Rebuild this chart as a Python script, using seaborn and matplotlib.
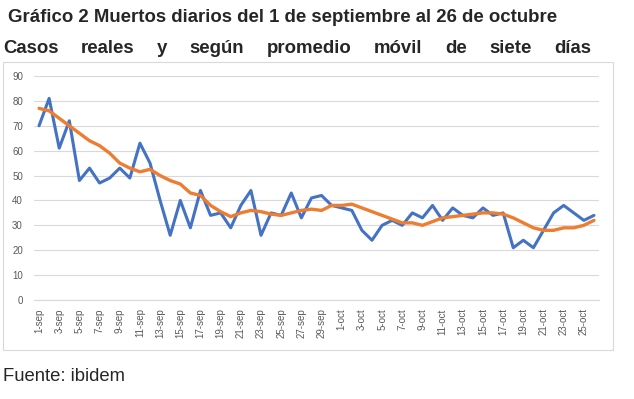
import matplotlib
matplotlib.use("Agg")
import matplotlib.pyplot as plt
import seaborn as sns
import pandas as pd
from matplotlib.patches import Rectangle

# daily deaths, 1-sep .. 26-oct
dates = [f"{d}-sep" for d in range(1, 31)] + [f"{d}-oct" for d in range(1, 27)]
casos = [70, 81, 61, 72, 48, 53, 47, 49, 53, 49,
         63, 55, 40, 26, 40, 29, 44, 34, 35, 29,
         38, 44, 26, 35, 34, 43, 33, 41, 42, 38,
         37, 36, 28, 24, 30, 32, 30, 35, 33, 38,
         32, 37, 34, 33, 37, 34, 35, 21, 24, 21,
         28, 35, 38, 35, 32, 34]
promedio = [77, 76, 73, 70, 67, 64, 62, 59, 55, 53,
            51.5, 52.5, 50, 48, 46.6, 43, 42, 38, 35.5, 33.5,
            35, 36, 35.5, 34.5, 34, 35, 36, 36.5, 36, 38,
            38, 38.5, 37, 35.5, 34, 32.5, 31, 31, 30, 31.5,
            33, 33.5, 34, 34.5, 35, 35, 34.5, 33, 31, 29,
            28, 28, 29, 29, 30, 32]
yticks = list(range(0, 100, 10))

df = pd.DataFrame({"idx": range(len(dates)), "fecha": dates,
                   "Casos reales": casos, "Promedio móvil": promedio})

sns.set_style("white")
plt.rcParams["font.family"] = ["Liberation Sans", "DejaVu Sans"]

W, H = 634, 399
fig = plt.figure(figsize=(W / 100, H / 100), dpi=100)

def fx(px):
    return px / W

def fy(py):
    return 1 - py / H

# chart border
fig.patches.append(Rectangle((fx(3), fy(350)), fx(610), 288 / H, transform=fig.transFigure,
                             fill=False, edgecolor="#d9d9d9", linewidth=0.8))

ax = fig.add_axes([fx(34), fy(300), fx(599) - fx(34), fy(76) - fy(300)])
sns.lineplot(data=df, x="idx", y="Casos reales", ax=ax, color="#4472C4", linewidth=2.2)
sns.lineplot(data=df, x="idx", y="Promedio móvil", ax=ax, color="#ED7D31", linewidth=2.4)

ax.set_xlim(-0.5, len(dates) - 0.5)
ax.set_ylim(0, 90)
ax.set_yticks(yticks)
ax.yaxis.grid(True, color="#d9d9d9", linewidth=0.8)
ax.set_axisbelow(True)
ax.tick_params(axis="y", length=0, pad=8, labelsize=7, labelcolor="#595959")

ax.set_xticks(df["idx"][::2])
ax.set_xticklabels(df["fecha"][::2], rotation=90)
ax.set_xticks([i - 0.5 for i in range(0, len(dates) + 1, 2)], minor=True)
ax.tick_params(axis="x", which="major", length=0, pad=6, labelsize=7, labelcolor="#595959")
ax.tick_params(axis="x", which="minor", length=5, width=0.8, color="#d9d9d9", direction="out")
ax.set_xlabel("")
ax.set_ylabel("")
for s in ["top", "right", "left"]:
    ax.spines[s].set_visible(False)
ax.spines["bottom"].set_color("#d9d9d9")
ax.spines["bottom"].set_linewidth(0.8)

fig.text(fx(8), fy(22), "Gráfico 2 Muertos diarios del 1 de septiembre al 26 de octubre",
         fontsize=13.4, fontweight="bold", va="baseline", ha="left")

# second title line is justified between x=3 and x=591
words = "Casos reales y según promedio móvil de siete días".split()
renderer = fig.canvas.get_renderer()
items = [fig.text(0, fy(53), w, fontsize=13.4, fontweight="bold", va="baseline", ha="left")
         for w in words]
widths = [t.get_window_extent(renderer).width for t in items]
gap = (591 - 3 - sum(widths)) / (len(words) - 1)
x = 3
for t, wd in zip(items, widths):
    t.set_x(fx(x))
    x += wd + gap

fig.text(fx(3), fy(381), "Fuente: ibidem", fontsize=13.3, va="baseline", ha="left")

fig.savefig("out.png", dpi=100)
